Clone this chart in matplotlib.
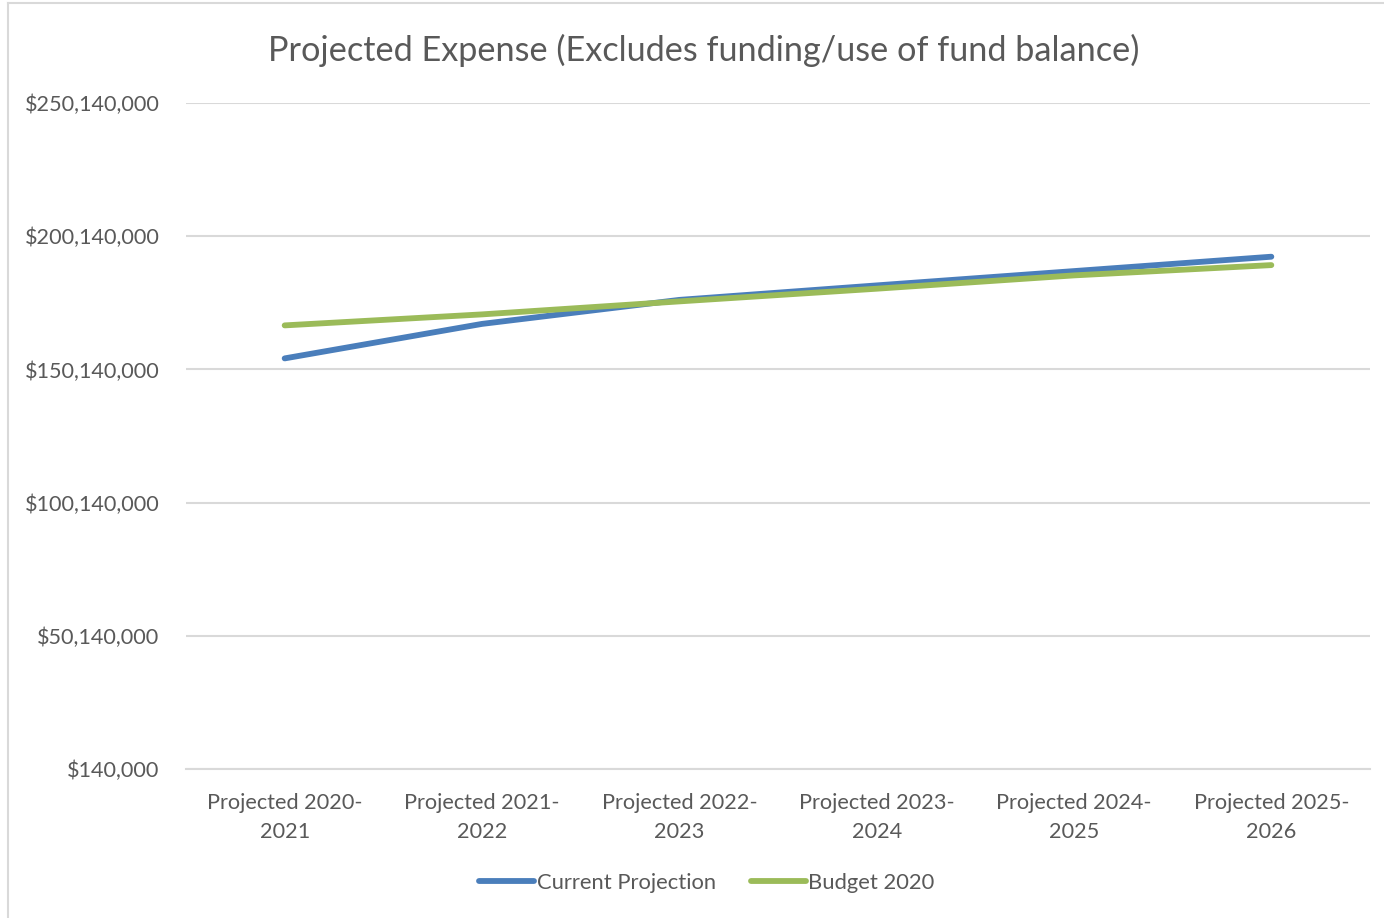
import matplotlib
matplotlib.use("Agg")
import matplotlib.pyplot as plt
from matplotlib.lines import Line2D
from matplotlib.ticker import FuncFormatter, MultipleLocator

periods = [
    "Projected 2020-\n2021",
    "Projected 2021-\n2022",
    "Projected 2022-\n2023",
    "Projected 2023-\n2024",
    "Projected 2024-\n2025",
    "Projected 2025-\n2026",
]
current_projection = [154_270_000, 167_220_000, 176_230_000, 181_670_000, 187_040_000, 192_440_000]
budget_2020 = [166_660_000, 170_790_000, 175_670_000, 180_430_000, 185_430_000, 189_290_000]

Y_MIN = 140_000
Y_MAX = 250_140_000
Y_STEP = 50_000_000

TEXT = "#595959"
GRID = "#D9D9D9"
BLUE = "#4A7EBB"
GREEN = "#9BBB59"

plt.rcParams["font.family"] = ["Lato", "DejaVu Sans"]

fig = plt.figure(figsize=(13.84, 9.18), dpi=100)
W, H = 1384, 918
ax = fig.add_axes([186 / W, 1 - 769 / H, (1370 - 186) / W, (769 - 103) / H])

x = list(range(len(periods)))
ax.plot(x, current_projection, color=BLUE, lw=4.2, solid_capstyle="round",
        label="Current Projection", zorder=3)
ax.plot(x, budget_2020, color=GREEN, lw=4.2, solid_capstyle="round",
        label="Budget 2020", zorder=4)

ax.set_xlim(-0.5, len(periods) - 0.5)
ax.set_ylim(Y_MIN, Y_MAX)
ax.yaxis.set_major_locator(MultipleLocator(Y_STEP, offset=Y_MIN))
ax.yaxis.set_major_formatter(FuncFormatter(lambda v, _: f"${v:,.0f}"))
ax.set_xticks(x)
ax.set_xticklabels(periods, linespacing=1.58)

ax.grid(axis="y", color=GRID, lw=1.5, zorder=0)
for side in ("top", "right", "left"):
    ax.spines[side].set_visible(False)
ax.spines["bottom"].set_color(GRID)
ax.spines["bottom"].set_linewidth(1.5)
ax.tick_params(axis="both", length=0, labelsize=15.6, colors=TEXT)
ax.tick_params(axis="y", pad=19)
ax.tick_params(axis="x", pad=17)

fig.text(704 / W, 1 - 50 / H, "Projected Expense (Excludes funding/use of fund balance)",
         ha="center", va="center", fontsize=24.7, color=TEXT)

leg = fig.legend(loc="center", bbox_to_anchor=(707 / W, 1 - 883 / H), ncol=2,
                 frameon=False, fontsize=15.8, handlelength=2.5, handletextpad=0.12,
                 columnspacing=1.6, labelcolor=TEXT)

# chart area frame, clipped at the top and right
fig.add_artist(Line2D([8 / W, 8 / W], [0, 1 - 3 / H], color=GRID, lw=1.5))
fig.add_artist(Line2D([8 / W, 1], [1 - 3 / H, 1 - 3 / H], color=GRID, lw=1.5))

fig.savefig("out.png", dpi=100)
